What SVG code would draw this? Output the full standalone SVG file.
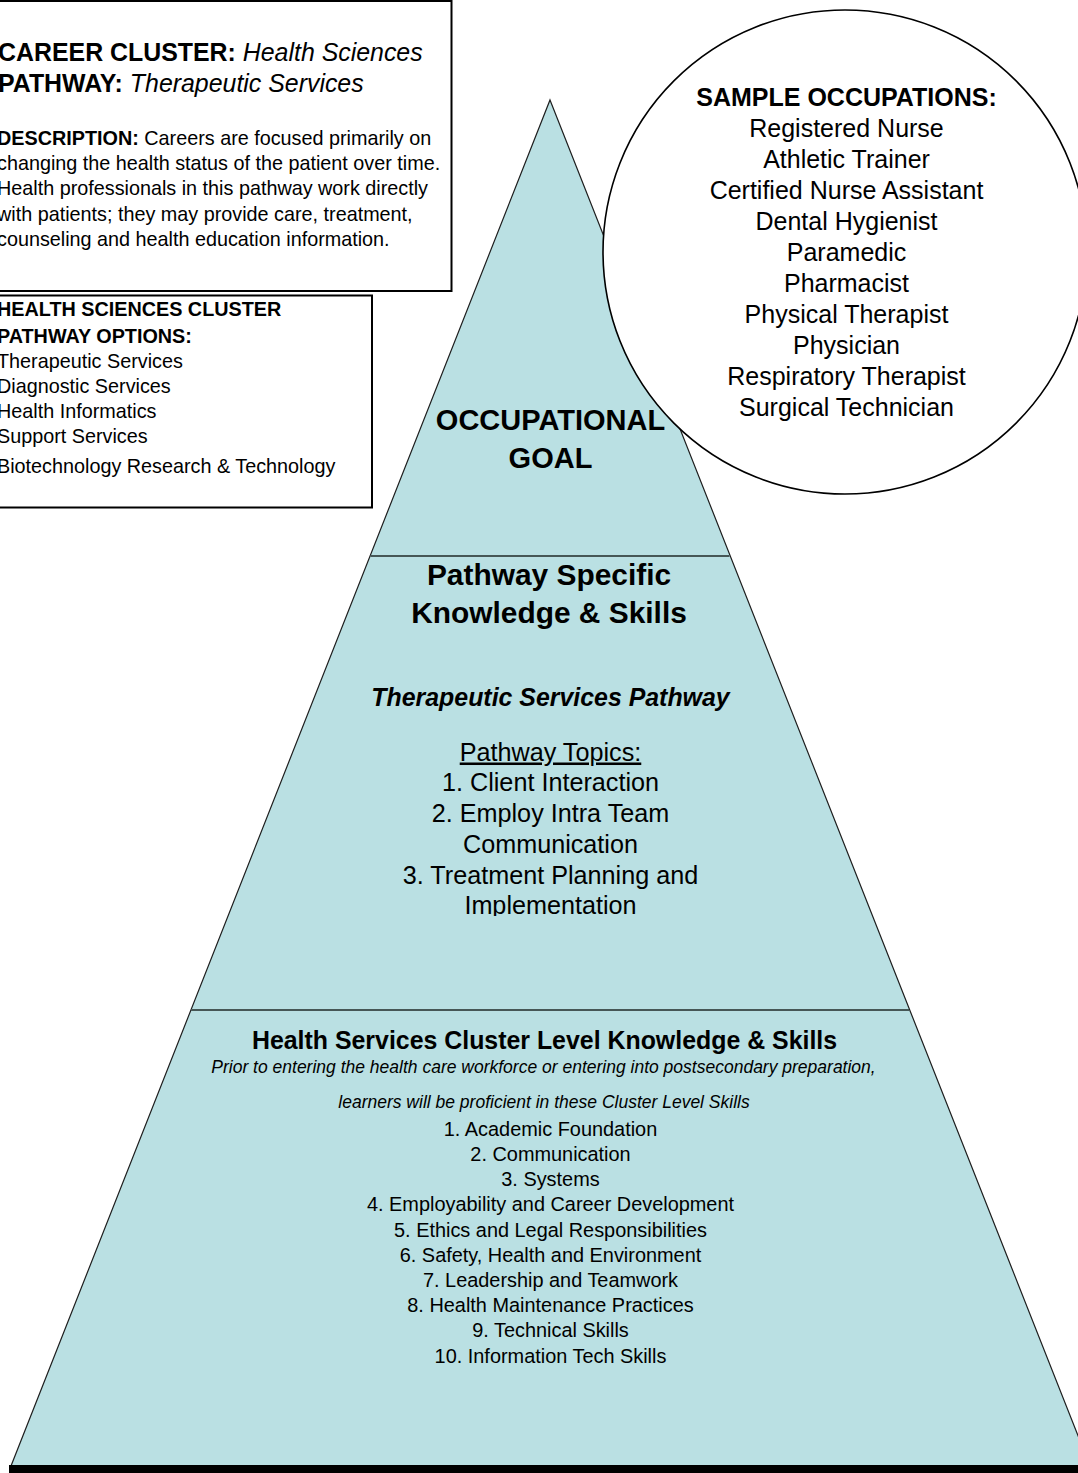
<svg xmlns="http://www.w3.org/2000/svg" width="1078" height="1473" viewBox="0 0 1078 1473">
  <style>
    text { font-family: "Liberation Sans", Arial, sans-serif; fill: #000; }
    .c { text-anchor: middle; }
    .b { font-weight: bold; }
    .i { font-style: italic; }
    .box { fill: #fff; stroke: #000; stroke-width: 2; }
    .tier { fill: #BAE0E3; stroke: #1e1e1e; stroke-width: 1.2; }
    .divider { stroke: #465756; stroke-width: 2.2; fill: none; }
    .info { font-size: 19.8px; }
    .occ { font-size: 25px; }
    .topic { font-size: 25.2px; }
    .skill { font-size: 19.9px; }
  </style>
  <defs>
    <clipPath id="topicsClip">
      <rect x="0" y="560" width="1078" height="356"/>
    </clipPath>
  </defs>

  <!-- pyramid body -->
  <g id="pyramid">
    <polygon class="tier" points="550,100 1090,1466 11,1466"/>
    <rect x="9" y="1465" width="1069" height="8" fill="#000"/>
  </g>

  <!-- tier dividers -->
  <g id="connectors">
    <line class="divider" x1="370.5" y1="556" x2="729.5" y2="556"/>
    <line class="divider" x1="191" y1="1010" x2="909" y2="1010"/>
  </g>

  <!-- career cluster description box -->
  <g id="cluster-box">
    <rect class="box" x="-10" y="1" width="461.5" height="290"/>
    <text x="-2" y="61" style="font-size:24.9px"><tspan class="b">CAREER CLUSTER:</tspan> <tspan class="i">Health Sciences</tspan></text>
    <text x="-2" y="92" style="font-size:24.9px"><tspan class="b">PATHWAY:</tspan> <tspan class="i">Therapeutic Services</tspan></text>
    <text class="info" x="-3" y="145"><tspan class="b">DESCRIPTION:</tspan> Careers are focused primarily on</text>
    <text class="info" x="-3" y="170">changing the health status of the patient over time.</text>
    <text class="info" x="-3" y="195">Health professionals in this pathway work directly</text>
    <text class="info" x="-3" y="220.5">with patients; they may provide care, treatment,</text>
    <text class="info" x="-3" y="245.5">counseling and health education information.</text>
  </g>

  <!-- pathway options box -->
  <g id="options-box">
    <rect class="box" x="-10" y="295.5" width="382" height="212"/>
    <text class="info b" x="-3" y="316">HEALTH SCIENCES CLUSTER</text>
    <text class="info b" x="-3" y="342.5">PATHWAY OPTIONS:</text>
    <text class="info" x="-3" y="367.5">Therapeutic Services</text>
    <text class="info" x="-3" y="392.5">Diagnostic Services</text>
    <text class="info" x="-3" y="417.5">Health Informatics</text>
    <text class="info" x="-3" y="442.5">Support Services</text>
    <text class="info" x="-3" y="473">Biotechnology Research &amp; Technology</text>
  </g>

  <!-- sample occupations circle -->
  <g id="occupations">
    <circle cx="845" cy="252" r="242" fill="#fff" stroke="#000" stroke-width="1.6"/>
    <text class="occ b c" x="846.5" y="106">SAMPLE OCCUPATIONS:</text>
    <text class="occ c" x="846.5" y="137">Registered Nurse</text>
    <text class="occ c" x="846.5" y="168">Athletic Trainer</text>
    <text class="occ c" x="846.5" y="199">Certified Nurse Assistant</text>
    <text class="occ c" x="846.5" y="230">Dental Hygienist</text>
    <text class="occ c" x="846.5" y="261">Paramedic</text>
    <text class="occ c" x="846.5" y="292">Pharmacist</text>
    <text class="occ c" x="846.5" y="323">Physical Therapist</text>
    <text class="occ c" x="846.5" y="354">Physician</text>
    <text class="occ c" x="846.5" y="385">Respiratory Therapist</text>
    <text class="occ c" x="846.5" y="416">Surgical Technician</text>
  </g>

  <!-- top tier -->
  <g id="occupational-goal">
    <text class="b c" x="550.5" y="430" style="font-size:29px">OCCUPATIONAL</text>
    <text class="b c" x="550.5" y="467.5" style="font-size:29px">GOAL</text>
  </g>

  <!-- middle tier -->
  <g id="pathway-skills">
    <text class="b c" x="549" y="585" style="font-size:29.9px">Pathway Specific</text>
    <text class="b c" x="549" y="623" style="font-size:29.9px">Knowledge &amp; Skills</text>
    <text class="b i c" x="550.5" y="706" style="font-size:24.9px">Therapeutic Services Pathway</text>
    <g clip-path="url(#topicsClip)">
      <text class="topic c" x="550.5" y="760.5" text-decoration="underline">Pathway Topics:</text>
      <text class="topic c" x="550.5" y="790.5">1. Client Interaction</text>
      <text class="topic c" x="550.5" y="821.5">2. Employ Intra Team</text>
      <text class="topic c" x="550.5" y="852.5">Communication</text>
      <text class="topic c" x="550.5" y="883.5">3. Treatment Planning and</text>
      <text class="topic c" x="550.5" y="914">Implementation</text>
    </g>
  </g>

  <!-- bottom tier -->
  <g id="cluster-skills">
    <text class="b c" x="544.5" y="1049" style="font-size:24.9px">Health Services Cluster Level Knowledge &amp; Skills</text>
    <text class="i c" x="543.5" y="1073" style="font-size:17.5px">Prior to entering the health care workforce or entering into postsecondary preparation,</text>
    <text class="i c" x="544" y="1108" style="font-size:17.5px">learners will be proficient in these Cluster Level Skills</text>
    <text class="skill c" x="550.5" y="1136">1. Academic Foundation</text>
    <text class="skill c" x="550.5" y="1161">2. Communication</text>
    <text class="skill c" x="550.5" y="1186">3. Systems</text>
    <text class="skill c" x="550.5" y="1211">4. Employability and Career Development</text>
    <text class="skill c" x="550.5" y="1236.5">5. Ethics and Legal Responsibilities</text>
    <text class="skill c" x="550.5" y="1261.5">6. Safety, Health and Environment</text>
    <text class="skill c" x="550.5" y="1286.5">7. Leadership and Teamwork</text>
    <text class="skill c" x="550.5" y="1312">8. Health Maintenance Practices</text>
    <text class="skill c" x="550.5" y="1337">9. Technical Skills</text>
    <text class="skill c" x="550.5" y="1362.5">10. Information Tech Skills</text>
  </g>
</svg>
